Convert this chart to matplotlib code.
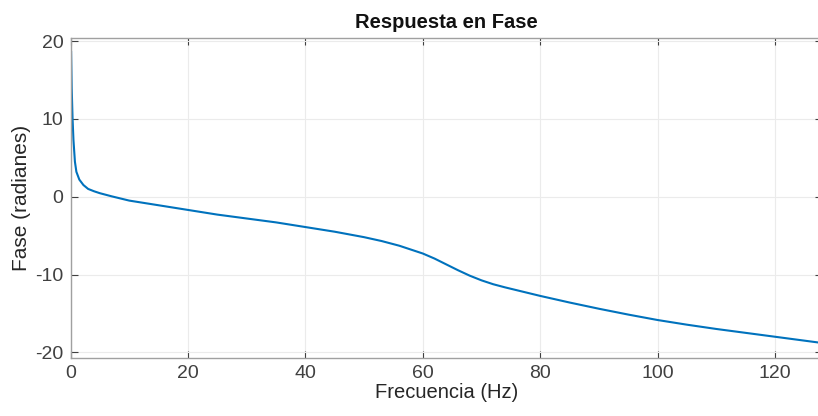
import numpy as np
import matplotlib.pyplot as plt

plt.rcParams['font.family'] = ['Liberation Sans', 'DejaVu Sans']
plt.rcParams['axes.unicode_minus'] = False

# frecuencia (Hz) y fase (rad)
freq = [0.1, 0.2, 0.35, 0.5, 0.75, 1.0, 1.5, 2.2, 3, 4, 5, 7, 10, 15, 20, 25, 30, 35,
        40, 45, 50, 53, 56, 58, 60, 62, 64, 66, 68, 70, 72, 74, 77, 80, 85, 90, 95,
        100, 105, 110, 115, 120, 125, 128]
fase = [18.6, 14.0, 10.0, 7.3, 4.5, 3.2, 2.2, 1.5, 1.0, 0.7, 0.45, 0.05, -0.5, -1.1,
        -1.7, -2.3, -2.8, -3.3, -3.9, -4.5, -5.2, -5.7, -6.3, -6.8, -7.3, -7.95, -8.7,
        -9.45, -10.15, -10.75, -11.25, -11.65, -12.2, -12.75, -13.6, -14.4, -15.15,
        -15.85, -16.45, -17.0, -17.5, -18.0, -18.5, -18.8]

xticks = [0, 20, 40, 60, 80, 100, 120]
yticks = [-20, -10, 0, 10, 20]

fig = plt.figure(figsize=(8.18, 4.16), dpi=100)
ax = fig.add_axes([0.0862, 0.140, 0.9187, 0.7687])
ax.plot(freq, fase, color='#0072BD', lw=1.5)

ax.set_xlim(0, 128)
ax.set_ylim(-20.7, 20.4)
ax.set_xticks(xticks)
ax.set_yticks(yticks)
ax.grid(True, color='#ebebeb', lw=0.8)
ax.set_axisbelow(True)
ax.tick_params(direction='in', length=5, top=True, right=True, labelsize=14,
               colors='#404040', pad=5, width=0.8)
for s in ax.spines.values():
    s.set_color('#a0a0a0')
    s.set_linewidth(1.0)

ax.set_title('Respuesta en Fase', fontsize=14.5, fontweight='bold', color='#111111', pad=7)
ax.set_xlabel('Frecuencia (Hz)', fontsize=14.5, color='#262626', labelpad=1)
ax.set_ylabel('Fase (radianes)', fontsize=15, color='#262626', labelpad=3)

fig.savefig('out.png', dpi=100)
